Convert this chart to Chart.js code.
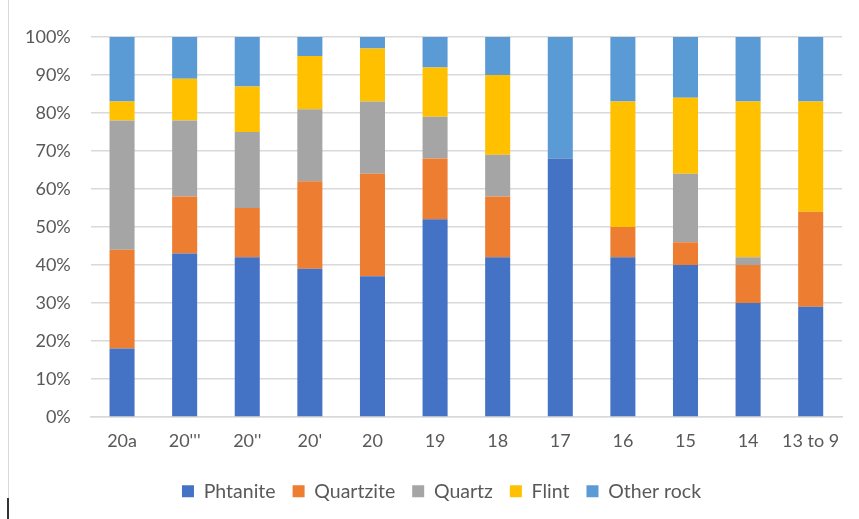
<!DOCTYPE html>
<html>
<head>
<meta charset="utf-8">
<script src="https://cdn.jsdelivr.net/npm/chart.js@4/dist/chart.umd.min.js"></script>
<style>
  html, body { margin: 0; padding: 0; background: #fff; }
  #wrap { position: relative; width: 859px; height: 519px; }
  #edge { position: absolute; left: 8px; top: 0; width: 0; height: 519px; border-left: 1px solid #d9d9d9; }
  #tick { position: absolute; left: 7px; top: 498px; width: 2px; height: 21px; background: #333; }
</style>
</head>
<body>
<div id="wrap">
  <canvas id="chart" width="859" height="519"></canvas>
  <div id="edge"></div>
  <div id="tick"></div>
</div>
<script>
  const layers = ['20a', "20'''", "20''", "20'", '20', '19', '18', '17', '16', '15', '14', '13 to 9'];

  const phtanite  = [18, 43, 42, 39, 37, 52, 42, 68, 42, 40, 30, 29];
  const quartzite = [26, 15, 13, 23, 27, 16, 16, 0, 8, 6, 10, 25];
  const quartz    = [34, 20, 20, 19, 19, 11, 11, 0, 0, 18, 2, 0];
  const flint     = [5, 11, 12, 14, 14, 13, 21, 0, 33, 20, 41, 29];
  const otherRock = [17, 11, 13, 5, 3, 8, 10, 32, 17, 16, 17, 17];

  const yTicks = [0, 10, 20, 30, 40, 50, 60, 70, 80, 90, 100];

  const textColor = '#595959';
  const font = { family: 'Lato', size: 18 };

  const ctx = document.getElementById('chart').getContext('2d');

  function bar(label, data, color) {
    return {
      label: label,
      data: data,
      backgroundColor: color,
      borderWidth: 0,
      barPercentage: 0.4,
      categoryPercentage: 1,
    };
  }

  // legend sits a little right of centre in the original
  const nudgeLegend = {
    id: 'nudgeLegend',
    afterLayout(chart) {
      chart.legend.left += 18;
      chart.legend.right += 18;
    },
  };

  new Chart(ctx, {
    type: 'bar',
    data: {
      labels: layers,
      datasets: [
        bar('Phtanite', phtanite, '#4472c4'),
        bar('Quartzite', quartzite, '#ed7d31'),
        bar('Quartz', quartz, '#a5a5a5'),
        bar('Flint', flint, '#ffc000'),
        bar('Other rock', otherRock, '#5b9bd5'),
      ],
    },
    plugins: [nudgeLegend],
    options: {
      responsive: false,
      animation: false,
      layout: {
        padding: { left: 5, right: 17, top: 37, bottom: 8 },
      },
      plugins: {
        title: { display: false },
        tooltip: { enabled: false },
        legend: {
          position: 'bottom',
          labels: {
            color: textColor,
            font: { family: 'Lato', size: 19.5 },
            boxWidth: 12,
            boxHeight: 12,
            padding: 17,
          },
        },
      },
      scales: {
        x: {
          stacked: true,
          grid: { display: false, drawTicks: false },
          border: { display: true, color: '#d9d9d9', width: 1.5 },
          ticks: { color: textColor, font: font, padding: 13, maxRotation: 0, autoSkip: false },
        },
        y: {
          stacked: true,
          min: 0,
          max: 100,
          afterBuildTicks: (axis) => {
            axis.ticks = yTicks.map((v) => ({ value: v }));
          },
          grid: { color: '#d9d9d9', lineWidth: 1.5, drawTicks: false },
          border: { display: false },
          ticks: {
            color: textColor,
            font: font,
            padding: 20,
            callback: (v) => v + '%',
          },
        },
      },
    },
  });
</script>
</body>
</html>
